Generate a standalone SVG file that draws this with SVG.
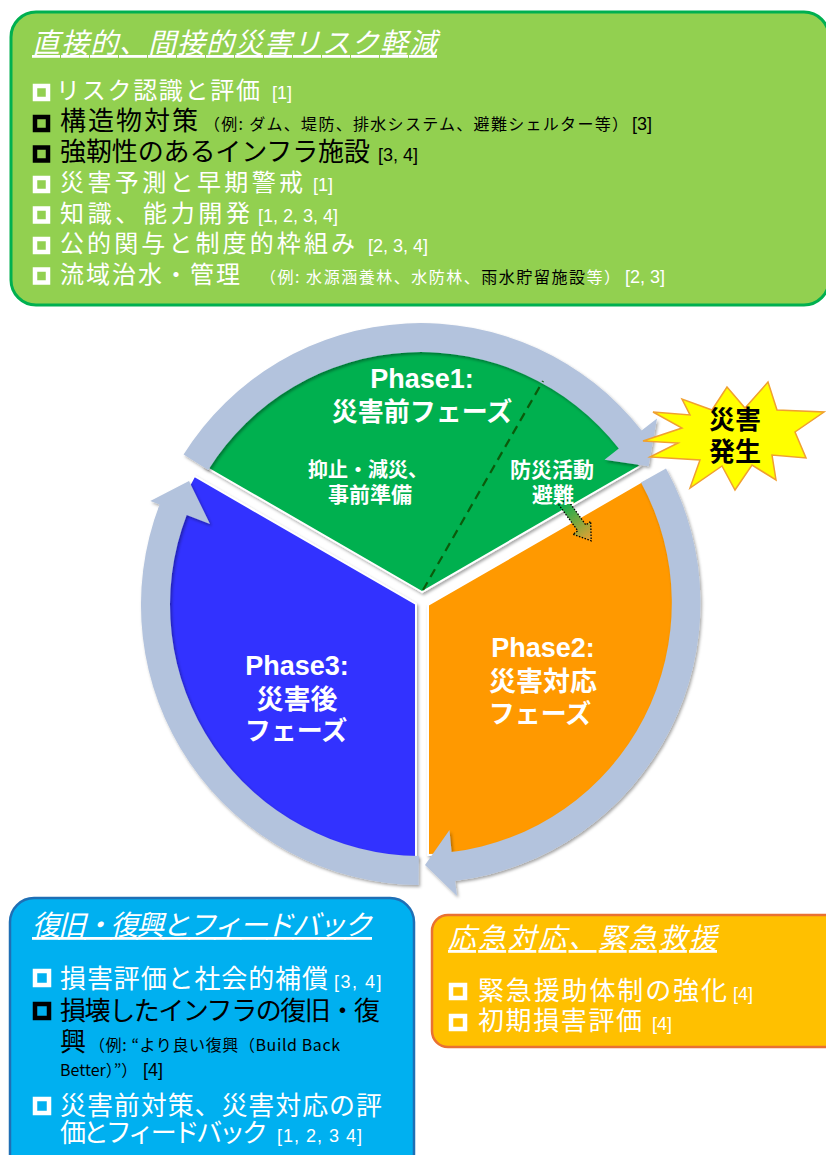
<svg xmlns="http://www.w3.org/2000/svg" width="826" height="1155" viewBox="0 0 826 1155">
<defs>
<style>
.jp{font-family:"Noto Sans CJK JP","Noto Sans",sans-serif}
.lat{font-family:"Liberation Sans",Arial,sans-serif}
.w{fill:#fff}
.k{fill:#000}
.ttl{font-style:italic;text-decoration:underline;fill:#fff;font-size:28px}
.it{font-size:24px}
.it2{font-size:26px}
.sm{font-size:16px}
.ref{font-family:"Liberation Sans",Arial,sans-serif;font-size:18px}
.cbw{fill:none;stroke:#fff;stroke-width:4.5}
.cbk{fill:none;stroke:#000;stroke-width:4.5}
.ph{font-weight:bold;fill:#fff;text-anchor:middle}
.ring{fill:#B3C3DD}
</style>
<filter id="sh" x="-10%" y="-10%" width="120%" height="120%">
<feDropShadow dx="1.5" dy="2" stdDeviation="1.5" flood-color="#000" flood-opacity="0.35"/>
</filter>
<linearGradient id="ag" gradientUnits="userSpaceOnUse" x1="0" y1="0" x2="48" y2="0">
<stop offset="0" stop-color="#00B050"/>
<stop offset="1" stop-color="#F0A030"/>
</linearGradient>
</defs>

<!-- top box -->
<g id="box-top">
<rect x="11" y="12" width="818" height="293" rx="25" fill="#92D050" stroke="#00B050" stroke-width="3"/>
<text class="jp ttl" x="32" y="53" textLength="405">直接的、間接的災害リスク軽減</text>
<rect class="cbw" x="35" y="86" width="13" height="13"/>
<text class="jp it w" x="56" y="99" textLength="204">リスク認識と評価</text>
<text class="ref w" x="272" y="99">[1]</text>
<rect class="cbk" x="35" y="117" width="13" height="13"/>
<text class="jp it2 k" x="60" y="130" textLength="138">構造物対策</text>
<text class="jp sm k" x="204" y="130" textLength="424">（例: ダム、堤防、排水システム、避難シェルター等）</text>
<text class="ref k" x="632" y="130">[3]</text>
<rect class="cbk" x="35" y="147.5" width="13" height="13"/>
<text class="jp it2 k" x="60" y="160.5" textLength="310">強靭性のあるインフラ施設</text>
<text class="ref k" x="378" y="160.5">[3, 4]</text>
<rect class="cbw" x="35" y="178" width="13" height="13"/>
<text class="jp it w" x="60" y="191" textLength="243">災害予測と早期警戒</text>
<text class="ref w" x="313" y="191">[1]</text>
<rect class="cbw" x="35" y="208.5" width="13" height="13"/>
<text class="jp it w" x="60" y="221.5" textLength="190">知識、能力開発</text>
<text class="ref w" x="258" y="221.5">[1, 2, 3, 4]</text>
<rect class="cbw" x="35" y="239" width="13" height="13"/>
<text class="jp it w" x="60" y="252" textLength="295">公的関与と制度的枠組み</text>
<text class="ref w" x="368" y="252">[2, 3, 4]</text>
<rect class="cbw" x="35" y="269.5" width="13" height="13"/>
<text class="jp it w" x="60" y="282.5" textLength="180">流域治水・管理</text>
<text class="jp sm w" x="260" y="282.5" textLength="360">（例: 水源涵養林、水防林、<tspan class="k">雨水貯留施設</tspan>等）</text>
<text class="ref w" x="625" y="282.5">[2, 3]</text>
</g>

<!-- pie sectors -->
<g id="phase3" filter="url(#sh)">
<path d="M416 604 L416 860 A256 256 0 0 1 194.3 476 Z" fill="#3333FF" stroke="#fff" stroke-width="2"/>
</g>
<g id="phase2" filter="url(#sh)">
<path d="M428 605 L644.5 480 A250 250 0 0 1 428 855 Z" fill="#FF9900" stroke="#fff" stroke-width="2"/>
</g>
<g id="phase1" filter="url(#sh)">
<path d="M422 592 L203.8 466 A252 252 0 0 1 640.2 466 Z" fill="#00B050" stroke="#fff" stroke-width="2"/>
</g>

<!-- connectors: cycle ring arrows and inner arrow -->
<g id="connectors">
<g filter="url(#sh)">
<path class="ring" d="M183.6 454.6 A280 280 0 0 1 641.6 430.6 L657 418.5 L648.6 466.3 L604.5 459.8 L618.8 448.5 A251 251 0 0 0 208.2 470 Z"/>
<path class="ring" d="M666 468.5 A280 280 0 0 1 455.1 880.9 L457 896 L425 865 L449.5 830 L451.6 852.1 A251 251 0 0 0 641 482.5 Z"/>
<path class="ring" d="M418.6 885 A280 280 0 0 1 159.6 504.6 L150.3 501.1 L189 481 L210 524 L186.7 515 A251 251 0 0 0 418.8 856 Z"/>
</g>
<line x1="423" y1="590" x2="543" y2="381" stroke="#0B5A0B" stroke-width="2.2" stroke-dasharray="9 6"/>
<path transform="translate(563 502) rotate(54)" d="M0 -5 L32 -5 L32 -11 L48 0 L32 11 L32 5 L0 5 Z" fill="url(#ag)" stroke="#000" stroke-width="1.3" stroke-dasharray="1.5 1.5"/>
</g>

<!-- phase labels -->
<g id="labels">
<text class="lat ph" x="422" y="388" font-size="27">Phase1:</text>
<text class="jp ph" x="422" y="421" font-size="26">災害前フェーズ</text>
<text class="jp ph" x="368" y="477" font-size="20">抑止・減災、</text>
<text class="jp ph" x="370" y="502" font-size="21">事前準備</text>
<text class="jp ph" x="552" y="477" font-size="21">防災活動</text>
<text class="jp ph" x="553" y="502" font-size="21">避難</text>
<text class="lat ph" x="543" y="657" font-size="27">Phase2:</text>
<text class="jp ph" x="543" y="691" font-size="27">災害対応</text>
<text class="jp ph" x="540" y="723" font-size="26">フェーズ</text>
<text class="lat ph" x="297" y="675" font-size="27">Phase3:</text>
<text class="jp ph" x="297" y="709" font-size="27">災害後</text>
<text class="jp ph" x="296" y="740" font-size="26">フェーズ</text>
</g>

<!-- disaster occurrence starburst -->
<g id="disaster">
<path d="M768 382 L777 410 L824 412 L795 432 L806 458 L772 455 L776 480 L752 465 L735 490 L722 466 L690 488 L700 460 L650 457 L678 443 L643 441 L682 428 L653 412 L690 415 L682 399 L712 410 L727 387 L745 408 Z" fill="#FFFF00" stroke="#F0A030" stroke-width="1.5"/>
<text class="jp" x="735" y="429" font-size="26" font-weight="bold" text-anchor="middle">災害</text>
<text class="jp" x="735" y="461" font-size="26" font-weight="bold" text-anchor="middle">発生</text>
</g>

<!-- bottom-left box -->
<g id="box-recovery">
<rect x="10" y="898" width="404" height="280" rx="24" fill="#00B0F0" stroke="#1F6FB5" stroke-width="2.5"/>
<text class="jp ttl" x="32" y="935" textLength="340">復旧・復興とフィードバック</text>
<rect class="cbw" x="35" y="971" width="14" height="14"/>
<text class="jp it2 w" x="60" y="988" textLength="268">損害評価と社会的補償</text>
<text class="ref w" x="334" y="988" font-size="20" letter-spacing="1.5">[3, 4]</text>
<rect class="cbk" x="35" y="1004" width="14" height="14"/>
<text class="jp it2 k" x="60" y="1020" textLength="320">損壊したインフラの復旧・復</text>
<text class="jp it2 k" x="60" y="1051">興</text>
<text class="jp sm k" x="89" y="1051" textLength="251">（例: “より良い復興（Build Back</text>
<text class="jp sm k" x="60" y="1076">Better）”）</text>
<text class="ref k" x="143" y="1076" font-size="20">[4]</text>
<rect class="cbw" x="35" y="1099" width="14" height="14"/>
<text class="jp it2 w" x="60" y="1115" textLength="322">災害前対策、災害対応の評</text>
<text class="jp it2 w" x="60" y="1142" textLength="208">価とフィードバック</text>
<text class="ref w" x="277" y="1142" font-size="20" letter-spacing="1">[1, 2, 3 4]</text>
</g>

<!-- bottom-right box -->
<g id="box-response">
<rect x="432" y="915" width="410" height="132" rx="16" fill="#FFC000" stroke="#E97132" stroke-width="2.5"/>
<text class="jp ttl" x="448" y="948" textLength="269">応急対応、緊急救援</text>
<rect class="cbw" x="451" y="985" width="14" height="13"/>
<text class="jp it2 w" x="478" y="1000" textLength="249">緊急援助体制の強化</text>
<text class="ref w" x="733" y="1000" font-size="20">[4]</text>
<rect class="cbw" x="451" y="1016" width="14" height="13"/>
<text class="jp it2 w" x="478" y="1030" textLength="164">初期損害評価</text>
<text class="ref w" x="652" y="1030" font-size="20">[4]</text>
</g>
</svg>
